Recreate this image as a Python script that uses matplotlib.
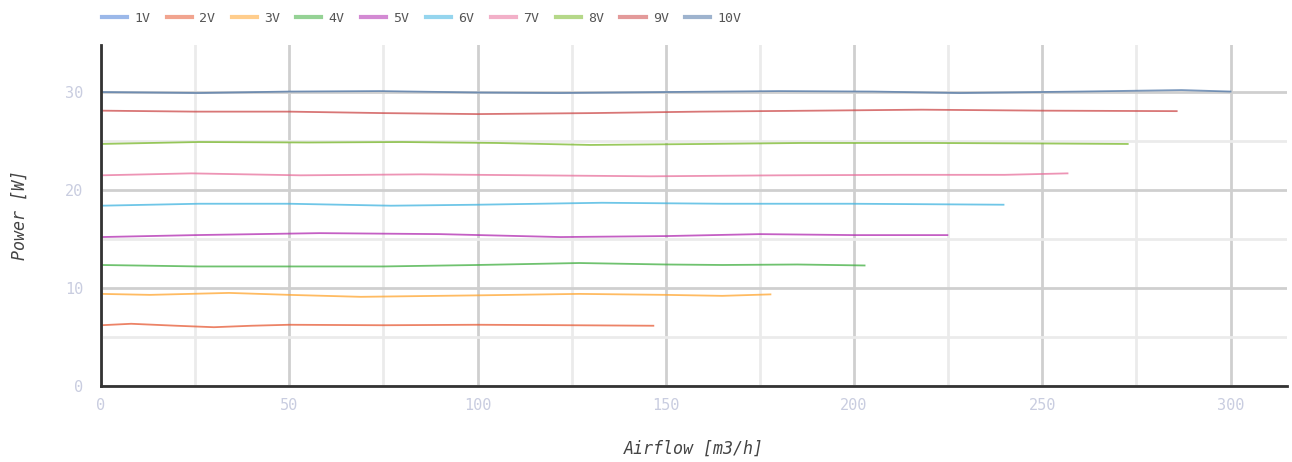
### Fan power vs airflow ###

import numpy as np
import matplotlib.pyplot as plt
from matplotlib.ticker import MultipleLocator

# data, one list per supply voltage
labels = ['1V', '2V', '3V', '4V', '5V', '6V', '7V', '8V', '9V', '10V']

airflow_1v = []
power_1v = []
airflow_2v = [0, 8, 20, 30, 40, 50, 75, 100, 125, 146.7]
power_2v = [6.2, 6.35, 6.15, 6.0, 6.15, 6.25, 6.2, 6.25, 6.2, 6.15]
airflow_3v = [0, 13, 34, 50, 69, 100, 127, 150, 165, 177.8]
power_3v = [9.4, 9.3, 9.5, 9.3, 9.1, 9.25, 9.4, 9.3, 9.2, 9.35]
airflow_4v = [0, 26, 50, 75, 100, 127, 150, 165, 185, 202.8]
power_4v = [12.35, 12.2, 12.2, 12.2, 12.35, 12.55, 12.4, 12.35, 12.4, 12.3]
airflow_5v = [0, 25, 58, 90, 122, 150, 175, 200, 224.8]
power_5v = [15.2, 15.4, 15.6, 15.5, 15.2, 15.3, 15.5, 15.4, 15.4]
airflow_6v = [0, 26, 50, 77, 100, 133, 165, 199, 220, 239.7]
power_6v = [18.4, 18.6, 18.6, 18.4, 18.5, 18.7, 18.6, 18.6, 18.55, 18.5]
airflow_7v = [0, 24, 53, 85, 115, 146, 180, 212, 240, 256.7]
power_7v = [21.5, 21.7, 21.5, 21.6, 21.5, 21.4, 21.5, 21.55, 21.55, 21.7]
airflow_8v = [0, 26, 55, 80, 105, 130, 160, 186, 220, 250, 272.7]
power_8v = [24.7, 24.9, 24.85, 24.9, 24.8, 24.6, 24.7, 24.8, 24.8, 24.75, 24.7]
airflow_9v = [0, 25, 50, 75, 100, 130, 159, 190, 218, 250, 285.7]
power_9v = [28.1, 28.0, 28.0, 27.85, 27.75, 27.85, 28.0, 28.1, 28.2, 28.1, 28.05]
airflow_10v = [0, 26, 50, 74, 100, 122, 150, 180, 205, 228, 260, 287, 300]
power_10v = [30.0, 29.9, 30.05, 30.1, 29.95, 29.9, 30.0, 30.1, 30.05, 29.9, 30.05, 30.2, 30.05]

airflows = [airflow_1v, airflow_2v, airflow_3v, airflow_4v, airflow_5v,
            airflow_6v, airflow_7v, airflow_8v, airflow_9v, airflow_10v]
powers = [power_1v, power_2v, power_3v, power_4v, power_5v,
          power_6v, power_7v, power_8v, power_9v, power_10v]

colors = ['#4a7fd8', '#e65a34', '#ffa52e', '#3fae3f', '#b02ab0',
          '#3fb4e0', '#e8709c', '#78b828', '#cc4848', '#4f76a6']

mono = ['DejaVu Sans Mono']

fig = plt.figure(figsize=(12.92, 4.62), dpi=100)
ax = fig.add_axes([101/1292, 1 - 386/462, (1287 - 101)/1292, (386 - 45)/462])

# grid - major darker, minor lighter
ax.set_axisbelow(True)
ax.xaxis.set_major_locator(MultipleLocator(50))
ax.xaxis.set_minor_locator(MultipleLocator(25))
ax.yaxis.set_major_locator(MultipleLocator(10))
ax.yaxis.set_minor_locator(MultipleLocator(5))
ax.grid(which='major', color='#cfcfcf', linewidth=2)
ax.grid(which='minor', color='#ebebeb', linewidth=2)

for x, y, c, lab in zip(airflows, powers, colors, labels):
    ax.plot(x, y, color=c, linewidth=1.3, alpha=0.75, label=lab)

ax.set_xlim(0, 315)
ax.set_ylim(0, 34.8)

for s in ['top', 'right']:
    ax.spines[s].set_visible(False)
for s in ['left', 'bottom']:
    ax.spines[s].set_color('#333333')
    ax.spines[s].set_linewidth(2)

ax.tick_params(which='both', length=0)
ax.tick_params(axis='x', pad=9)
ax.tick_params(axis='y', pad=13)
for t in ax.get_xticklabels() + ax.get_yticklabels():
    t.set_fontfamily(mono)
    t.set_fontsize(11)
    t.set_color('#c9cde0')

ax.set_xlabel('Airflow [m3/h]', fontfamily=mono, fontstyle='italic',
              fontsize=12, color='#444444', labelpad=19)
ax.set_ylabel('Power [W]', fontfamily=mono, fontstyle='italic',
              fontsize=12, color='#444444', labelpad=26)

leg = fig.legend(loc='upper left', bbox_to_anchor=(90/1292, 1.0), ncol=10,
                 frameon=False, prop={'family': mono, 'size': 9.5},
                 handlelength=1.9, handletextpad=0.55, columnspacing=1.25)
for h in leg.get_lines():
    h.set_linewidth(3)
    h.set_alpha(0.55)
for t in leg.get_texts():
    t.set_color('#555555')

fig.savefig('out.png', dpi=100)
